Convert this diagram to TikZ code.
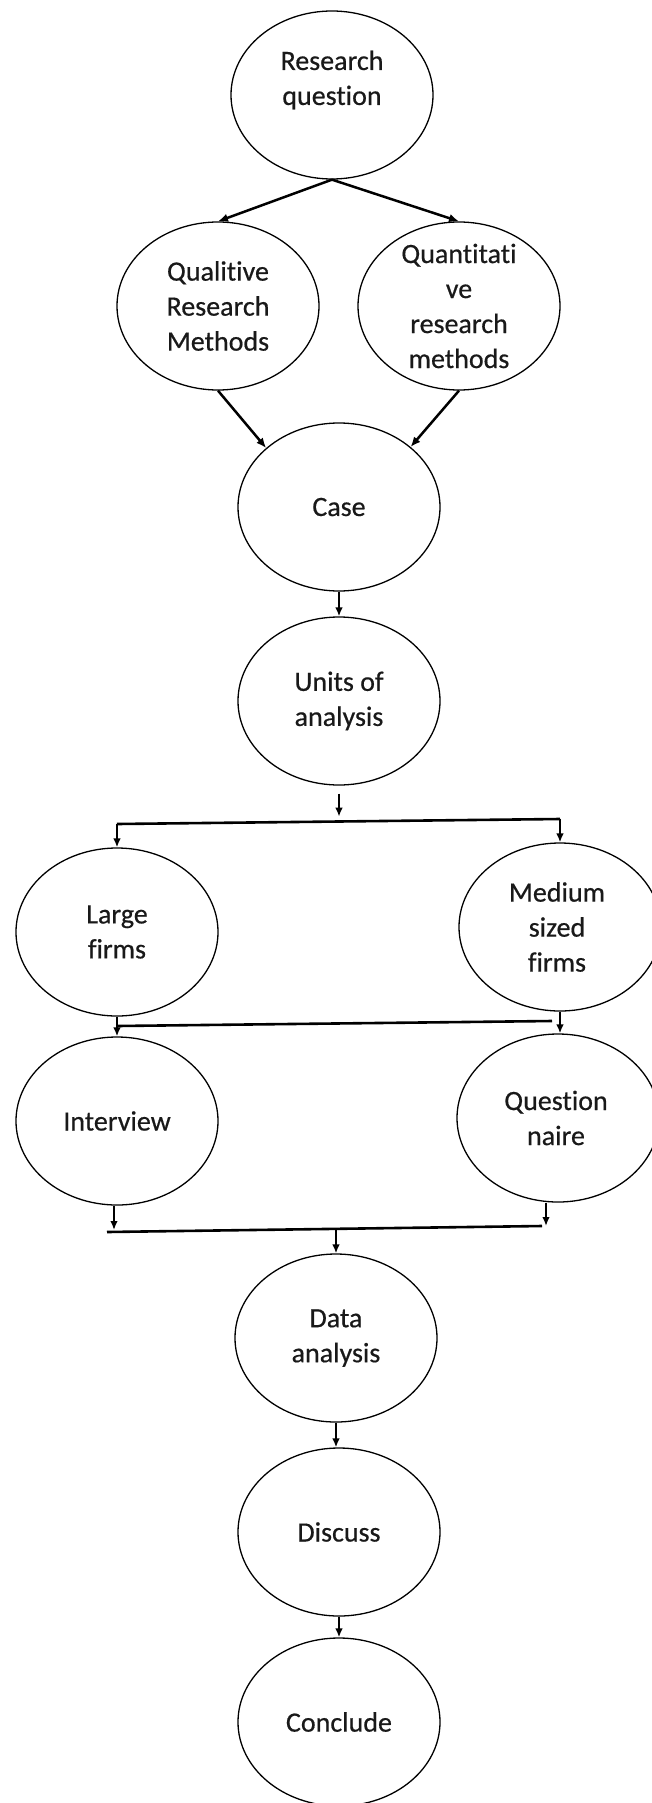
\documentclass[tikz,border=0pt]{standalone}
\usepackage{fontspec}
\setmainfont{Carlito}[Ligatures={NoCommon,NoContextual},FakeBold=0.5]
\usetikzlibrary{shapes.geometric,arrows.meta,calc}

\begin{document}
\begin{tikzpicture}[x=0.5pt,y=-0.5pt,
  bub/.style={ellipse,draw=black,line width=0.65pt,minimum width=101pt,minimum height=84pt,inner sep=0pt},
  txt/.style={align=center,font=\fontsize{14}{17.5}\selectfont,inner sep=0pt,text=black!90},
  arr/.style={line width=0.9pt,-{Latex[length=4.5pt,width=3.8pt]}},
  bigarr/.style={line width=1.25pt,-{Latex[length=5pt,width=4.2pt]}},
  bar/.style={line width=1.3pt}]

% page area
\clip (0,0) rectangle (652,1803);
\fill[white] (0,0) rectangle (652,1803);

% process steps
\node[bub,label={[txt,yshift=7.5pt]center:{Research\\question}}] (rq) at (332,95) {};
\node[bub,label={[txt]center:{Qualitive\\Research\\Methods}}] (qual) at (218,306) {};
\node[bub,label={[txt]center:{Quantitati\\ve\\research\\methods}}] (quant) at (459,306) {};
\node[bub,label={[txt]center:{Case}}] (case) at (339,507) {};
\node[bub,label={[txt]center:{Units of\\analysis}}] (units) at (339,701) {};
\node[bub,label={[txt]center:{Large\\firms}}] (large) at (117,932) {};
\node[bub,label={[txt,xshift=-1.5pt]center:{Medium\\sized\\firms}}] (medium) at (560,927) {};
\node[bub,label={[txt]center:{Interview}}] (interview) at (117,1121) {};
\node[bub,label={[txt,xshift=-1pt]center:{Question\\naire}}] (quest) at (558,1118) {};
\node[bub,label={[txt]center:{Data\\analysis}}] (data) at (336,1338) {};
\node[bub,label={[txt]center:{Discuss}}] (discuss) at (339,1532) {};
\node[bub,label={[txt]center:{Conclude}}] (conclude) at (339,1722) {};

% split into the two method families and merge into the case
\draw[bigarr] (rq.south) -- (qual.north);
\draw[bigarr] (rq.south) -- (quant.north);
\draw[bigarr] (qual.south) -- (case.141);
\draw[bigarr] (quant.south) -- (case.40);
\draw[arr] (case.south) -- (units.north);

% units of analysis branch to firm sizes
\coordinate (u1) at ($(units.south)+(0,8)$);
\coordinate (u2) at ($(units.south)+(0,31)$);
\draw[arr] (u1) -- (u2);
\coordinate (b1l) at (117,824);
\coordinate (b1r) at (560,819);
\draw[bar] (b1l) -- (b1r);
\draw[arr] (b1l) -- (large.north);
\draw[arr] (b1r) -- (medium.north);

% firm sizes to data collection
\coordinate (b2l) at (117,1026);
\coordinate (b2r) at (552,1021);
\draw[bar] (b2l) -- (b2r);
\draw[arr] (large.south) -- (interview.north);
\draw[arr] (medium.south) -- (medium.south |- quest.north);

% collection merges into analysis
\coordinate (b3l) at (107,1232);
\coordinate (b3r) at (542,1226);
\coordinate (b3m) at (336,1229);
\draw[bar] (b3l) -- (b3r);
\coordinate (i1) at ($(interview.south)+(-3,0)$);
\draw[arr] (i1) -- (i1 |- 0,1230);
\coordinate (q1) at ($(quest.south)+(-12,0)$);
\draw[arr] (q1) -- (q1 |- b3r);
\draw[arr] (b3m) -- (data.north);

% final steps
\draw[arr] (data.south) -- (data.south |- discuss.north);
\draw[arr] (discuss.south) -- (conclude.north);

\end{tikzpicture}
\end{document}
